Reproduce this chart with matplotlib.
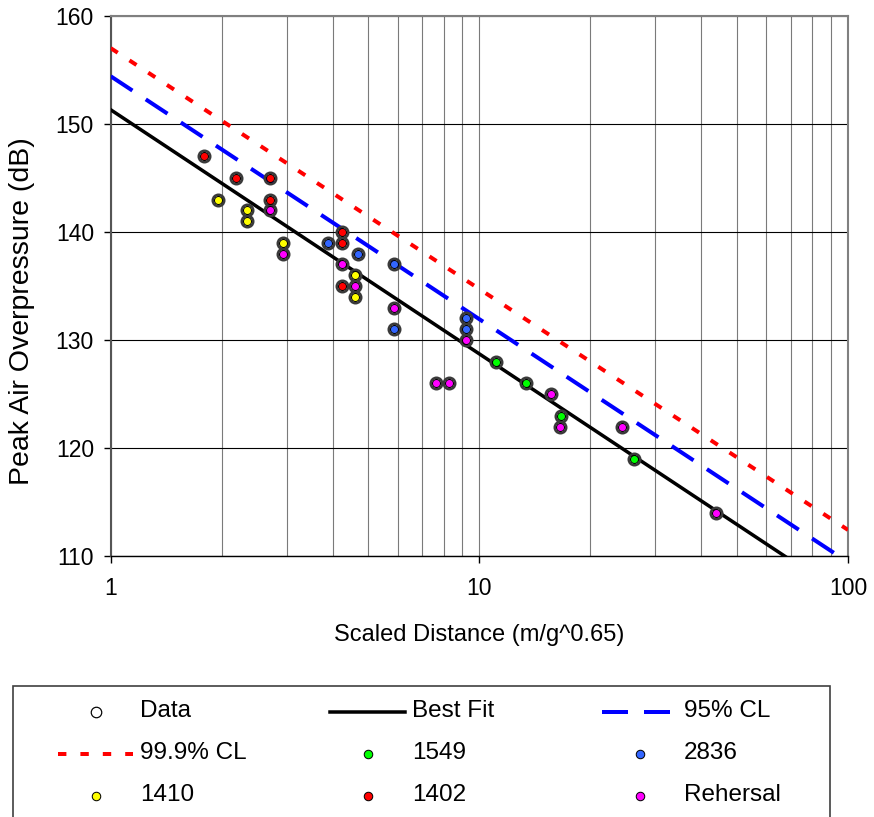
import numpy as np
import matplotlib
matplotlib.use('Agg')
import matplotlib.pyplot as plt
from matplotlib.lines import Line2D
from matplotlib.patches import Rectangle
from matplotlib.ticker import LogLocator, NullFormatter, FixedLocator

plt.rcParams['font.family'] = ['Liberation Sans', 'DejaVu Sans']

# scaled distance (m/g^0.65) and peak overpressure (dB) per blast
sd_1549 = [11.1, 13.4, 16.7, 26.2]
db_1549 = [128, 126, 123, 119]

sd_2836 = [3.89, 4.70, 5.87, 5.87, 9.18, 9.18]
db_2836 = [139, 138, 137, 131, 132, 131]

sd_1410 = [1.95, 2.35, 2.35, 2.93, 4.59, 4.59]
db_1410 = [143, 142, 141, 139, 136, 134]

sd_1402 = [1.79, 2.19, 2.71, 2.71, 4.23, 4.23, 4.23]
db_1402 = [147, 145, 145, 143, 140, 139, 135]

sd_reh = [2.71, 2.93, 4.23, 4.59, 5.87, 9.18, 7.61, 8.26, 15.6, 16.5, 24.3, 43.9]
db_reh = [142, 138, 137, 135, 133, 130, 126, 126, 125, 122, 122, 114]

# regression lines (straight on log x)
fit_x = [1, 100]
best_fit = [151.3, 106.14]
cl_95 = [154.4, 109.46]
cl_999 = [157.0, 112.44]

W, H = 874, 817
px = 72 / 100  # points per pixel

series = [
    ('1549', sd_1549, db_1549, '#00FF00'),
    ('2836', sd_2836, db_2836, '#3366FF'),
    ('1410', sd_1410, db_1410, '#FFFF00'),
    ('1402', sd_1402, db_1402, '#FF0000'),
    ('Rehersal', sd_reh, db_reh, '#FF00FF'),
]

line_styles = {
    'Best Fit': dict(color='black', lw=3.5 * px, ls='-'),
    '95% CL': dict(color='#0000FF', lw=4 * px, dashes=(6.5, 4)),
    '99.9% CL': dict(color='#FF0000', lw=4 * px, dashes=(2.1, 3.5)),
}

fig = plt.figure(figsize=(W / 100, H / 100), dpi=100)
left, right, top, bottom = 110.7, 848, 15.7, 556.3
ax = fig.add_axes([left / W, 1 - bottom / H, (right - left) / W, (bottom - top) / H])

ax.set_xscale('log')
ax.set_xlim(1, 100)
ax.set_ylim(110, 160)
ax.set_yticks(np.arange(110, 161, 10))
ax.xaxis.set_major_locator(FixedLocator([1, 10, 100]))
ax.xaxis.set_major_formatter(plt.FuncFormatter(lambda v, p: f'{v:g}'))
ax.xaxis.set_minor_locator(LogLocator(base=10, subs=np.arange(2, 10)))
ax.xaxis.set_minor_formatter(NullFormatter())

ax.grid(True, which='both', axis='x', color='#7a7a7a', lw=0.8)
ax.grid(True, which='major', axis='y', color='black', lw=0.8)
ax.set_axisbelow(True)

ax.tick_params(axis='both', which='major', length=7 * px, width=1, direction='out',
               labelsize=16.5, colors='black')
ax.tick_params(axis='y', pad=7)
ax.tick_params(axis='x', pad=10)
ax.tick_params(axis='x', which='minor', length=0)

ax.spines['top'].set_color('#808080')
ax.spines['right'].set_color('#808080')
ax.spines['left'].set_color('#555555')
for s in ('top', 'right', 'left'):
    ax.spines[s].set_linewidth(1.5)
ax.spines['bottom'].set_color('black')
ax.spines['bottom'].set_linewidth(1)

ax.plot(fit_x, cl_999, zorder=3, **line_styles['99.9% CL'])
ax.plot(fit_x, cl_95, zorder=3, **line_styles['95% CL'])
ax.plot(fit_x, best_fit, zorder=3, **line_styles['Best Fit'])

all_x = np.concatenate([s[1] for s in series])
all_y = np.concatenate([s[2] for s in series])
ax.plot(all_x, all_y, 'o', ms=11.5 * px, mfc='none', mec='#3a3a3a', mew=2.5 * px, zorder=4)
for name, xs, ys, col in series:
    ax.plot(xs, ys, 'o', ms=8 * px, mfc=col, mec='black', mew=1 * px, zorder=5)

ax.set_xlabel('Scaled Distance (m/g^0.65)', fontsize=17, labelpad=17)
ax.set_ylabel('Peak Air Overpressure (dB)', fontsize=20.5)
ax.yaxis.set_label_coords(-0.102, 0.454)

# legend laid out like the spreadsheet one: equal-width columns, row-major
legend_rows = [['Data', 'Best Fit', '95% CL'],
               ['99.9% CL', '1549', '2836'],
               ['1410', '1402', 'Rehersal']]
colors = {name: col for name, _, _, col in series}

fig.add_artist(Rectangle((13.3 / W, 1 - 830 / H), (830 - 13.3) / W, (830 - 685.7) / H,
                         transform=fig.transFigure, fill=False, ec='#404040', lw=1.2))


def fx(x):
    return x / W


def fy(y):
    return 1 - y / H


for r, row in enumerate(legend_rows):
    yc = 711.7 + 42.2 * r
    for c, label in enumerate(row):
        x0 = 58 + 272 * c
        if label in line_styles:
            fig.add_artist(Line2D([fx(x0), fx(x0 + 75)], [fy(yc), fy(yc)],
                                  transform=fig.transFigure, **line_styles[label]))
        elif label == 'Data':
            fig.add_artist(Line2D([fx(x0 + 38)], [fy(yc)], marker='o', ms=10.5 * px,
                                  mfc='white', mec='black', mew=1.2 * px,
                                  transform=fig.transFigure))
        else:
            fig.add_artist(Line2D([fx(x0 + 38)], [fy(yc)], marker='o', ms=8.5 * px,
                                  mfc=colors[label], mec='black', mew=1 * px,
                                  transform=fig.transFigure))
        fig.text(fx(x0 + 82), fy(yc - 1), label, fontsize=17.5, va='center', ha='left')

fig.savefig('out.png', dpi=100)
